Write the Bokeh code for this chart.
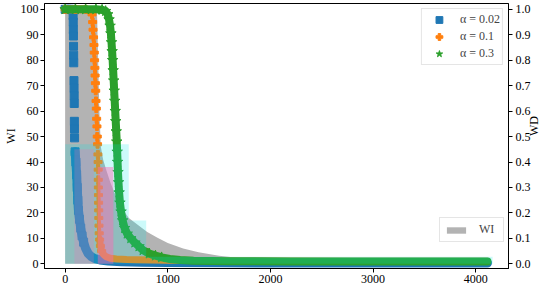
import math
from bokeh.plotting import figure
from bokeh.models import (Range1d, LinearAxis, FixedTicker, PrintfTickFormatter,
                          Legend, LegendItem)
from bokeh.embed import file_html
from bokeh.resources import INLINE

FONT = "Liberation Serif"

# ---- data ----
x_ticks = [0, 1000, 2000, 3000, 4000]
wi_ticks = [0, 10, 20, 30, 40, 50, 60, 70, 80, 90, 100]
wd_ticks = [0.0, 0.1, 0.2, 0.3, 0.4, 0.5, 0.6, 0.7, 0.8, 0.9, 1.0]

labels = ["α = 0.02", "α = 0.1", "α = 0.3"]

blue_x = [0, 20, 40, 60, 78, 79, 80, 81, 82, 83,
          84, 86, 87, 88, 89, 90, 91, 92, 97, 105,
          112, 118, 124, 130, 140, 152, 165, 180, 200, 225,
          255, 290, 340, 420, 550, 750, 1000, 1500, 2000, 2500,
          3000, 3500, 4115]
blue_y = [100, 100, 100, 100, 97.5, 95, 92, 89.5, 85.5, 82,
          79, 72, 69, 66, 63, 56, 53, 49.5, 44, 40,
          35, 30, 25, 21, 17.5, 14, 11, 8.5, 6, 4,
          2.8, 2, 1.5, 1.1, 0.8, 0.6, 0.5, 0.4, 0.3, 0.3,
          0.3, 0.3, 0.3]

orange_x = [0, 100, 200, 250, 262, 268, 272, 277, 281, 284,
            287, 290, 292, 295, 298, 301, 304, 307, 310, 313,
            316, 319, 321, 322, 323, 324, 325, 326, 327, 328,
            330, 332, 336, 344, 356, 375, 400, 440, 500, 600,
            700, 850, 1000, 1300, 1700, 2200, 2800, 3400, 4115]
orange_y = [100, 100, 100, 99.5, 98, 95, 92, 89, 86, 83,
            80, 77, 74, 71, 68, 64, 61, 57, 54, 50,
            47, 43, 40, 37, 33, 30, 27, 24, 21, 18,
            15, 12, 9.5, 7, 5, 3.6, 2.8, 2.2, 1.9, 1.7,
            1.6, 1.5, 1.4, 1.3, 1.2, 1.1, 1.0, 1.0, 1.0]

green_x = [0, 100, 200, 300, 360, 395, 415, 428, 438, 446,
           452, 458, 463, 468, 473, 478, 483, 488, 493, 498,
           503, 507, 511, 515, 520, 526, 534, 545, 560, 580,
           605, 640, 680, 720, 760, 820, 880, 940, 1020, 1120,
           1250, 1600, 2200, 2800, 3400, 4115]
green_y = [100, 100, 100, 100, 99.8, 99.3, 98, 96, 93.5, 90.5,
           87, 83.5, 80, 76, 72, 68, 64, 60, 56, 52,
           48, 44, 40, 36, 32, 28, 24, 20.5, 17, 14,
           11.8, 10, 8.3, 6.8, 5.3, 4.0, 3.2, 2.5, 1.9, 1.5,
           1.2, 1.0, 0.9, 0.9, 0.9, 0.9]

wi_x = [0, 310, 322, 334, 348, 370, 400, 440, 490, 550,
        620, 700, 800, 900, 1000, 1150, 1300, 1500, 1700, 1900,
        2200, 2500]
wi_top = [100, 100, 80, 60, 46, 41, 37, 32, 27, 22,
          18, 15.5, 12.5, 10.2, 8.2, 6, 4.5, 3.2, 2.3, 1.6,
          1.0, 0.6]

cyan_x = [0, 620, 620, 790, 790, 4165]
cyan_top = [47, 47, 17, 17, 2.8, 2.8]
pink_a_x = [90, 280]
pink_a_top = [45, 45]
pink_b_x = [318, 470]
pink_b_top = [38, 38]

BLUE, ORANGE, GREEN = "#1f77b4", "#ff7f0e", "#2ca02c"

p = figure(width=550, height=288, output_backend="svg", toolbar_location=None,
           x_range=Range1d(-201, 4320), y_range=Range1d(-1.85, 102.3),
           min_border_left=43, min_border_right=41, min_border_top=3, min_border_bottom=20)
p.extra_y_ranges = {"wd": Range1d(-0.0185, 1.023)}
p.grid.visible = False
p.outline_line_color = "black"
p.outline_line_width = 1
p.background_fill_color = "white"
p.border_fill_color = "white"

gray_r = p.varea(x=wi_x, y1=[0] * len(wi_x), y2=wi_top, fill_color="#b3b3b3")


def part(xs, ys, cond):
    return [x for x, y in zip(xs, ys) if cond(y)], [y for y in ys if cond(y)]


def band(xs, ys, cond, color, width):
    bx, by = part(xs, ys, cond)
    p.line(bx, by, line_width=width, color=color, line_join="round", line_cap="round")


# blue squares
band(blue_x, blue_y, lambda y: y >= 99.5, BLUE, 8)
band(blue_x, blue_y, lambda y: y <= 45, BLUE, 9)
bx, by = part(blue_x, blue_y, lambda y: y > 8)
b_sc = p.scatter(bx, by, marker="square", size=8, color=BLUE)

# orange plus
band(orange_x, orange_y, lambda y: y >= 99.5, ORANGE, 8)
band(orange_x, orange_y, lambda y: y <= 10, ORANGE, 7)
ox, oy = part(orange_x, orange_y, lambda y: y > 4)
o_sc = p.scatter(ox, oy, marker="plus", size=8, color=ORANGE)

# green stars
band(green_x, green_y, lambda y: True, GREEN, 8)
gx, gy = part(green_x, green_y, lambda y: y > 2.4)
g_sc = p.scatter(gx, gy, marker="star", size=11, color=GREEN)

# translucent overlays
p.varea(x=cyan_x, y1=[0] * len(cyan_x), y2=cyan_top, fill_color="#00e5e5", fill_alpha=0.2)
p.varea(x=pink_a_x, y1=[0] * len(pink_a_x), y2=pink_a_top, fill_color="#ff69b4", fill_alpha=0.22)
p.varea(x=pink_b_x, y1=[0] * len(pink_b_x), y2=pink_b_top, fill_color="#ff69b4", fill_alpha=0.45)


def style_axis(ax):
    ax.major_tick_out = 4
    ax.major_tick_in = 0
    ax.minor_tick_out = 0
    ax.minor_tick_in = 0
    ax.major_label_text_font = FONT
    ax.major_label_text_font_size = "12px"
    ax.major_label_text_color = "black"
    ax.axis_line_color = "black"
    ax.major_tick_line_color = "black"
    ax.axis_label_text_font = FONT
    ax.axis_label_text_font_size = "12px"
    ax.axis_label_text_font_style = "normal"
    ax.axis_label_text_color = "black"
    ax.axis_label_standoff = 0
    ax.major_label_standoff = 4


p.xaxis.ticker = FixedTicker(ticks=x_ticks)
p.xaxis.formatter = PrintfTickFormatter(format="%d")
p.yaxis.ticker = FixedTicker(ticks=wi_ticks)
p.yaxis.formatter = PrintfTickFormatter(format="%d")
p.yaxis.axis_label = "WI"
style_axis(p.xaxis[0])
style_axis(p.yaxis[0])
p.xaxis[0].major_label_standoff = 2
p.yaxis[0].major_label_standoff = 2

wd_axis = LinearAxis(y_range_name="wd", ticker=FixedTicker(ticks=wd_ticks),
                     formatter=PrintfTickFormatter(format="%.1f"), axis_label="WD")
style_axis(wd_axis)
wd_axis.major_label_standoff = 3
if "axis_label_orientation" in wd_axis.properties():
    wd_axis.axis_label_orientation = math.pi / 2
p.add_layout(wd_axis, "right")

leg1 = Legend(items=[LegendItem(label=labels[0], renderers=[b_sc]),
                     LegendItem(label=labels[1], renderers=[o_sc]),
                     LegendItem(label=labels[2], renderers=[g_sc])],
              location="top_right", margin=5, padding=2, spacing=0,
              glyph_width=30, glyph_height=17, label_height=17, label_standoff=6,
              label_text_font=FONT, label_text_font_size="12px",
              border_line_color="#cccccc", background_fill_alpha=0.8)
p.add_layout(leg1)

leg2 = Legend(items=[LegendItem(label="WI", renderers=[gray_r])],
              location=(395, 26), padding=4, spacing=0,
              glyph_width=24, glyph_height=8, label_height=12, label_standoff=11,
              label_text_font=FONT, label_text_font_size="12px",
              border_line_color="#cccccc", background_fill_alpha=0.8)
p.add_layout(leg2)

open("out.html", "w").write(file_html(p, INLINE))
